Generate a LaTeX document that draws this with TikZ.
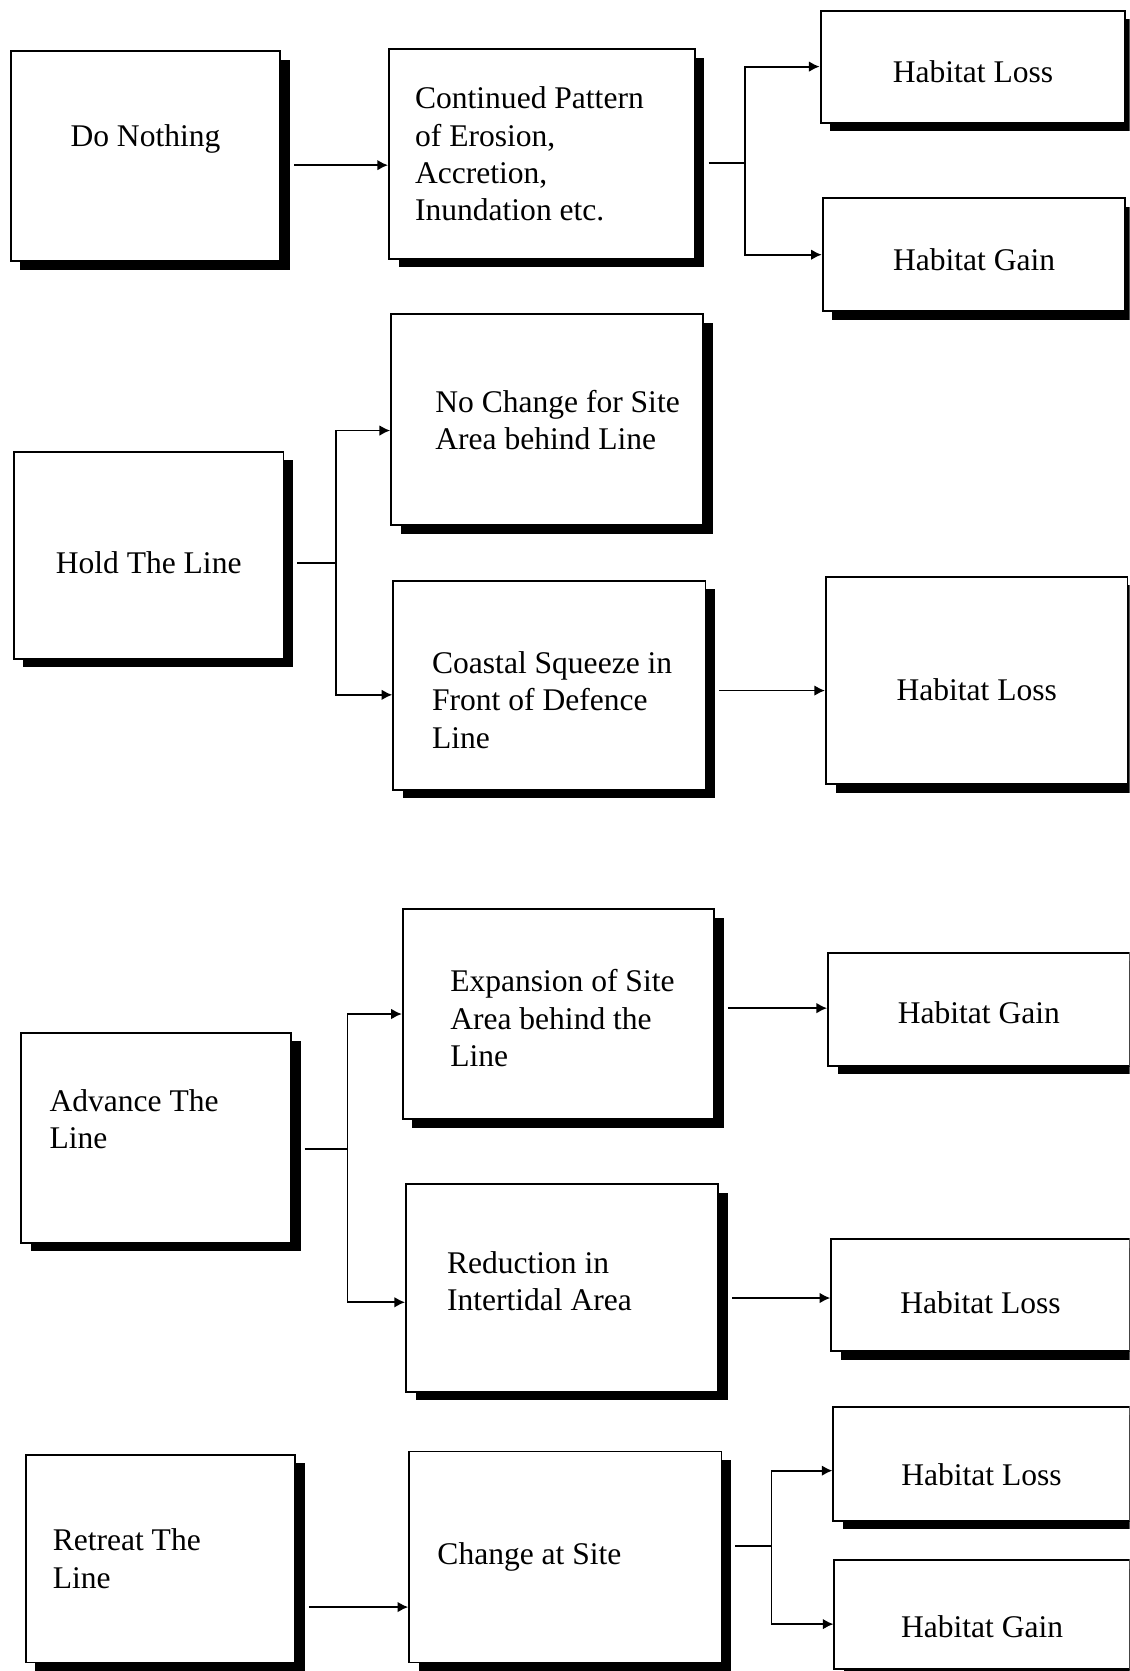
\documentclass[tikz,border=0pt]{standalone}
\usepackage{fontspec}
\setmainfont{Liberation Serif}
\usetikzlibrary{arrows.meta, positioning, shadows}

\begin{document}
\begin{tikzpicture}[
    x=0.5pt, y=-0.5pt, >={Latex[length=5pt,width=5pt]},
    box/.style={draw, line width=0.9pt, fill=white, inner sep=0pt,
        drop shadow={shadow xshift=4.5pt, shadow yshift=-4pt, fill=black, opacity=1}},
    txt/.style={inner sep=0pt, align=left, font=\fontsize{14.8}{17.5}\selectfont},
    link/.style={line width=0.85pt},
    feed/.style={link, shorten <=6pt}
    ]
  \clip (0,0) rectangle (1060,1568);

  % row 1: do nothing
  \node[box, minimum width=126.5pt, minimum height=98.5pt] (dn)    at (136.5,146.5) {};
  \node[box, minimum width=143.5pt, minimum height=98.5pt] (cont)  at (508.5,144.5) {};
  \node[box, minimum width=143pt,   minimum height=52.5pt] (loss1) at (913,62.5) {};
  \node[box, minimum width=142pt,   minimum height=53pt]   (gain1) at (914,239) {};

  \node[txt, yshift=8pt] (dnT) at (dn) {Do Nothing};
  \node[txt, right=12.5pt of cont.west] (contT) {Continued Pattern\\of Erosion,\\Accretion,\\Inundation etc.};
  \node[txt, yshift=-2.25pt] (loss1T) at (loss1) {Habitat Loss};
  \node[txt, yshift=-2.5pt] (gain1T) at (gain1) {Habitat Gain};

  \draw[feed,->] ([yshift=-4.25pt]dn.east) -- ([yshift=-4.25pt]dn.east -| cont.west);
  \coordinate (j1) at (699,153);
  \draw[feed] (cont.east |- j1) -- (j1);
  \draw[link,->] (j1) |- (loss1);
  \draw[link,->] (j1) |- (gain1);

  % row 2: hold the line
  \node[box, minimum width=126.5pt, minimum height=97pt]   (hold)  at (139.5,521) {};
  \node[box, minimum width=146.5pt, minimum height=99pt]   (noch)  at (513.5,394) {};
  \node[box, minimum width=146.5pt, minimum height=98pt]   (coast) at (515.5,643) {};
  \node[box, minimum width=141.5pt, minimum height=97.5pt] (loss2) at (916.5,638.5) {};

  \node[txt, yshift=-3.5pt] (holdT) at (hold) {Hold The Line};
  \node[txt, right=21pt of noch.west] (nochT) {No Change for Site\\Area behind Line};
  \node[txt, right=18.5pt of coast.west, yshift=-7pt] (coastT) {Coastal Squeeze in\\Front of Defence\\Line};
  \node[txt, yshift=-4.25pt] (loss2T) at (loss2) {Habitat Loss};

  \coordinate (j2) at (315,528);
  \draw[feed] (hold.east |- j2) -- (j2);
  \draw[link,->] (j2) |- ([yshift=-5pt]noch.west);
  \draw[link,->] (j2) |- ([yshift=-4.5pt]coast.west);
  \draw[feed,->] ([yshift=-2.5pt]coast.east) -- ([yshift=-2.5pt]coast.east -| loss2.west);

  % row 3: advance the line
  \node[box, minimum width=126.5pt, minimum height=98.5pt] (adv)   at (146.5,1067.5) {};
  \node[box, minimum width=146pt,   minimum height=98.5pt] (exp)   at (524,951.5) {};
  \node[box, minimum width=146.5pt, minimum height=97.5pt] (red)   at (527.5,1208.5) {};
  \node[box, minimum width=141.5pt, minimum height=53pt]   (gain3) at (918.5,947) {};
  \node[box, minimum width=140pt,   minimum height=52.5pt] (loss4) at (920,1215.5) {};

  \node[txt, right=13.5pt of adv.west, yshift=8.5pt] (advT) {Advance The\\Line};
  \node[txt, right=22.5pt of exp.west, yshift=-2pt] (expT) {Expansion of Site\\Area behind the\\Line};
  \node[txt, right=19.5pt of red.west, yshift=3pt] (redT) {Reduction in\\Intertidal Area};
  \node[txt, yshift=-1.5pt] (gain3T) at (gain3) {Habitat Gain};
  \node[txt, yshift=-3.25pt] (loss4T) at (loss4) {Habitat Loss};

  \coordinate (j3) at (326,1078);
  \draw[feed] (adv.east |- j3) -- (j3);
  \draw[link,->] (j3) |- (exp);
  \draw[link,->] (j3) |- ([yshift=-6.75pt]red.west);
  \draw[feed,->] ([yshift=2.75pt]exp.east) -- ([yshift=2.75pt]exp.east -| gain3.west);
  \draw[feed,->] ([yshift=-4.75pt]red.east) -- ([yshift=-4.75pt]red.east -| loss4.west);

  % row 4: retreat the line
  \node[box, minimum width=126.5pt, minimum height=97.5pt] (ret)   at (150.5,1462.5) {};
  \node[box, minimum width=146.5pt, minimum height=99pt]   (chg)   at (530.5,1461) {};
  \node[box, minimum width=139pt,   minimum height=53.5pt] (loss5) at (921,1373.5) {};
  \node[box, minimum width=138.5pt, minimum height=51pt]   (gain5) at (921.5,1515) {};

  \node[txt, right=13pt of ret.west] (retT) {Retreat The\\Line};
  \node[txt, right=13.5pt of chg.west] (chgT) {Change at Site};
  \node[txt, yshift=-5.25pt] (loss5T) at (loss5) {Habitat Loss};
  \node[txt, yshift=-5.5pt] (gain5T) at (gain5) {Habitat Gain};

  \draw[feed,->] ([yshift=-22.75pt]ret.east) -- ([yshift=-22.75pt]ret.east -| chg.west);
  \coordinate (j4) at (724,1451);
  \draw[feed] (chg.east |- j4) -- (j4);
  \draw[link,->] (j4) |- ([yshift=-3.25pt]loss5.west);
  \draw[link,->] (j4) |- ([yshift=-4.5pt]gain5.west);
\end{tikzpicture}
\end{document}
